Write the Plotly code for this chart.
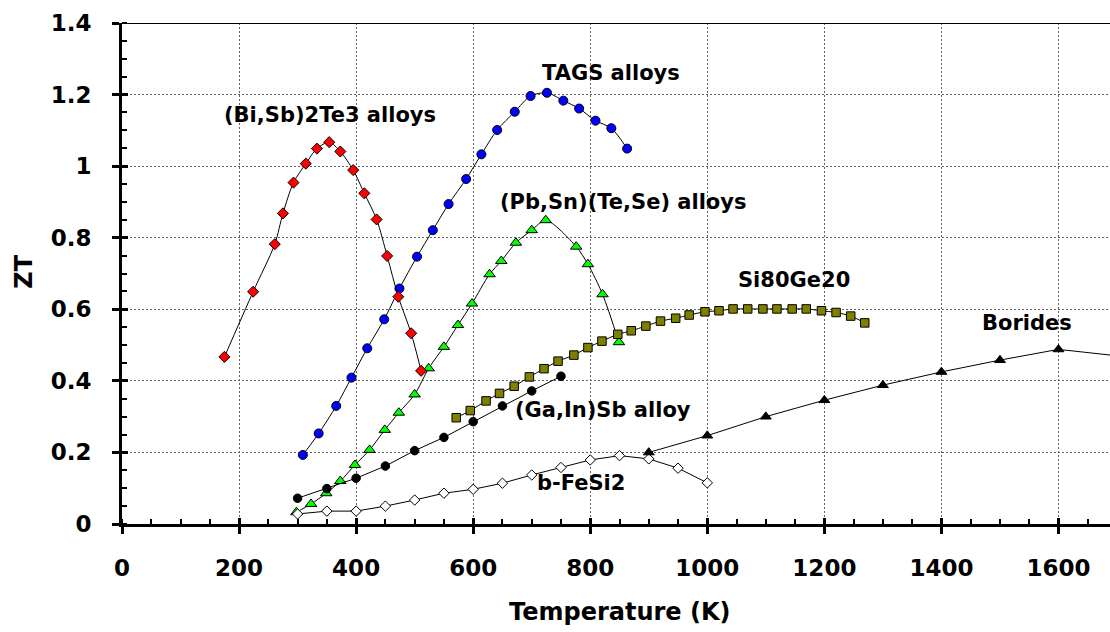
import plotly.graph_objects as go

# Temperature (K) / ZT series for each thermoelectric material family
bisbte_T = [175, 224, 261, 275, 293, 314, 333, 354, 373, 395, 414, 435, 453, 472, 494, 511]
bisbte_zt = [0.467, 0.649, 0.782, 0.868, 0.954, 1.007, 1.049, 1.067, 1.041, 0.989, 0.924,
             0.851, 0.749, 0.635, 0.533, 0.428]

tags_T = [309, 336, 366, 392, 419, 448, 474, 504, 531, 558, 588, 614, 641, 671, 698, 726,
          754, 781, 809, 836, 863]
tags_zt = [0.193, 0.253, 0.330, 0.409, 0.491, 0.572, 0.658, 0.747, 0.821, 0.894, 0.964,
           1.033, 1.101, 1.152, 1.196, 1.205, 1.183, 1.161, 1.127, 1.106, 1.049]

pbsn_T = [298, 323, 349, 373, 398, 423, 449, 473, 500, 524, 550, 574, 598, 628, 648, 673,
          700, 724, 776, 796, 821, 849]
pbsn_zt = [0.033, 0.056, 0.086, 0.120, 0.165, 0.207, 0.263, 0.311, 0.362, 0.435, 0.495,
           0.556, 0.616, 0.698, 0.735, 0.786, 0.821, 0.849, 0.775, 0.726, 0.642, 0.508]

sige_T = [571, 595, 622, 645, 670, 696, 721, 745, 772, 796, 820, 847, 870, 895, 920, 946,
          969, 996, 1020, 1044, 1069, 1095, 1119, 1145, 1169, 1195, 1220, 1245, 1269]
sige_zt = [0.297, 0.317, 0.344, 0.365, 0.385, 0.411, 0.434, 0.455, 0.472, 0.493, 0.511,
           0.530, 0.540, 0.553, 0.567, 0.575, 0.584, 0.593, 0.596, 0.601, 0.601, 0.601,
           0.601, 0.601, 0.601, 0.596, 0.591, 0.581, 0.562]

gainsb_T = [300, 350, 400, 450, 500, 550, 600, 650, 700, 750]
gainsb_zt = [0.072, 0.099, 0.128, 0.162, 0.205, 0.242, 0.286, 0.330, 0.372, 0.413]

fesi_T = [300, 350, 400, 450, 500, 550, 600, 650, 700, 750, 800, 850, 900, 950, 1000]
fesi_zt = [0.028, 0.036, 0.036, 0.050, 0.067, 0.086, 0.097, 0.114, 0.137, 0.158, 0.179,
           0.191, 0.182, 0.156, 0.115]

boride_T = [900, 1000, 1100, 1200, 1300, 1400, 1500, 1600, 1800]
boride_zt = [0.200, 0.247, 0.300, 0.346, 0.388, 0.425, 0.458, 0.488, 0.452]

x_ticks = [0, 200, 400, 600, 800, 1000, 1200, 1400, 1600]
y_ticks = [0, 0.2, 0.4, 0.6, 0.8, 1, 1.2, 1.4]
y_tick_text = ["0", "0.2", "0.4", "0.6", "0.8", "1", "1.2", "1.4"]

FONT = "DejaVu Sans"

fig = go.Figure()


def add_series(xs, ys, symbol, fill, size, shape="spline"):
    fig.add_trace(go.Scatter(
        x=xs, y=ys, mode="lines+markers",
        line=dict(color="black", width=1, shape=shape, smoothing=0.8),
        marker=dict(symbol=symbol, color=fill, size=size,
                    line=dict(color="black", width=1)),
        showlegend=False, hoverinfo="skip",
    ))


add_series(tags_T, tags_zt, "circle", "#0000FF", 9)
add_series(pbsn_T, pbsn_zt, "triangle-up", "#00FF00", 10)
add_series(sige_T, sige_zt, "square", "#808000", 8.5)
add_series(gainsb_T, gainsb_zt, "circle", "black", 8.5, shape="linear")
add_series(fesi_T, fesi_zt, "diamond", "white", 8, shape="linear")
add_series(boride_T, boride_zt, "triangle-up", "black", 9.5, shape="linear")
add_series(bisbte_T, bisbte_zt, "diamond", "#FF0000", 8.5)

# empty trace on the overlay axes that carry the inner half of the major ticks
fig.add_trace(go.Scatter(x=[None], y=[None], xaxis="x2", yaxis="y2",
                         showlegend=False, hoverinfo="skip"))

X_MAX = 1688
tick_font = dict(family=FONT, size=23, color="black", weight="bold")
GRID = "#606060"

fig.update_layout(
    width=1110, height=632,
    margin=dict(l=122, r=0, t=23, b=108),
    paper_bgcolor="white", plot_bgcolor="white",
    showlegend=False,
    xaxis=dict(
        range=[0, X_MAX], tickmode="array", tickvals=x_ticks,
        ticktext=[str(v) for v in x_ticks],
        ticks="outside", ticklen=7, tickwidth=3, tickcolor="black",
        showline=True, linewidth=3, linecolor="black",
        showgrid=True, gridcolor=GRID, gridwidth=1, griddash="2px,2px",
        zeroline=False, tickfont=tick_font, ticklabelstandoff=14,
        minor=dict(ticks="inside", dtick=50, tick0=0, ticklen=5, tickwidth=2,
                   tickcolor="black", showgrid=False),
    ),
    yaxis=dict(
        range=[0, 1.4], tickmode="array", tickvals=y_ticks, ticktext=y_tick_text,
        ticks="outside", ticklen=7, tickwidth=3, tickcolor="black",
        showline=True, linewidth=3, linecolor="black",
        showgrid=True, gridcolor=GRID, gridwidth=1, griddash="2px,2px",
        zeroline=False, tickfont=tick_font, ticklabelstandoff=16,
        minor=dict(ticks="inside", dtick=0.05, tick0=0, ticklen=5, tickwidth=2,
                   tickcolor="black", showgrid=False),
    ),
    xaxis2=dict(
        range=[0, X_MAX], overlaying="x", anchor="y2", side="bottom",
        tickmode="array", tickvals=x_ticks, ticks="inside", ticklen=6, tickwidth=3,
        tickcolor="black", showticklabels=False, showgrid=False, showline=False,
        zeroline=False,
    ),
    yaxis2=dict(
        range=[0, 1.4], overlaying="y", anchor="x2", side="left",
        tickmode="array", tickvals=y_ticks, ticks="inside", ticklen=6, tickwidth=3,
        tickcolor="black", showticklabels=False, showgrid=False, showline=False,
        zeroline=False,
    ),
    shapes=[dict(type="line", xref="paper", yref="y", x0=0, x1=1, y0=1.4, y1=1.4,
                 line=dict(color="black", width=2), layer="above")],
)

label_font = dict(family=FONT, size=21, color="black", weight="bold")
series_labels = [
    ("(Bi,Sb)2Te3 alloys", 355, 1.142),
    ("TAGS alloys", 836, 1.260),
    ("(Pb,Sn)(Te,Se) alloys", 856, 0.900),
    ("Si80Ge20", 1148, 0.682),
    ("Borides", 1546, 0.562),
    ("(Ga,In)Sb alloy", 822, 0.318),
    ("b-FeSi2", 784, 0.114),
]
for text, tx, ty in series_labels:
    fig.add_annotation(x=tx, y=ty, xref="x", yref="y", text=text, showarrow=False,
                       font=label_font, xanchor="center", yanchor="middle")

title_font = dict(family=FONT, size=24, color="black", weight="bold")
fig.add_annotation(x=0.5036, y=0, xref="paper", yref="paper", yshift=-88,
                   text="Temperature (K)", showarrow=False, font=title_font,
                   xanchor="center", yanchor="middle")
fig.add_annotation(x=0, y=0.5036, xref="paper", yref="paper", xshift=-98,
                   text="ZT", textangle=-90, showarrow=False, font=title_font,
                   xanchor="center", yanchor="middle")

fig.write_html("out.html")
